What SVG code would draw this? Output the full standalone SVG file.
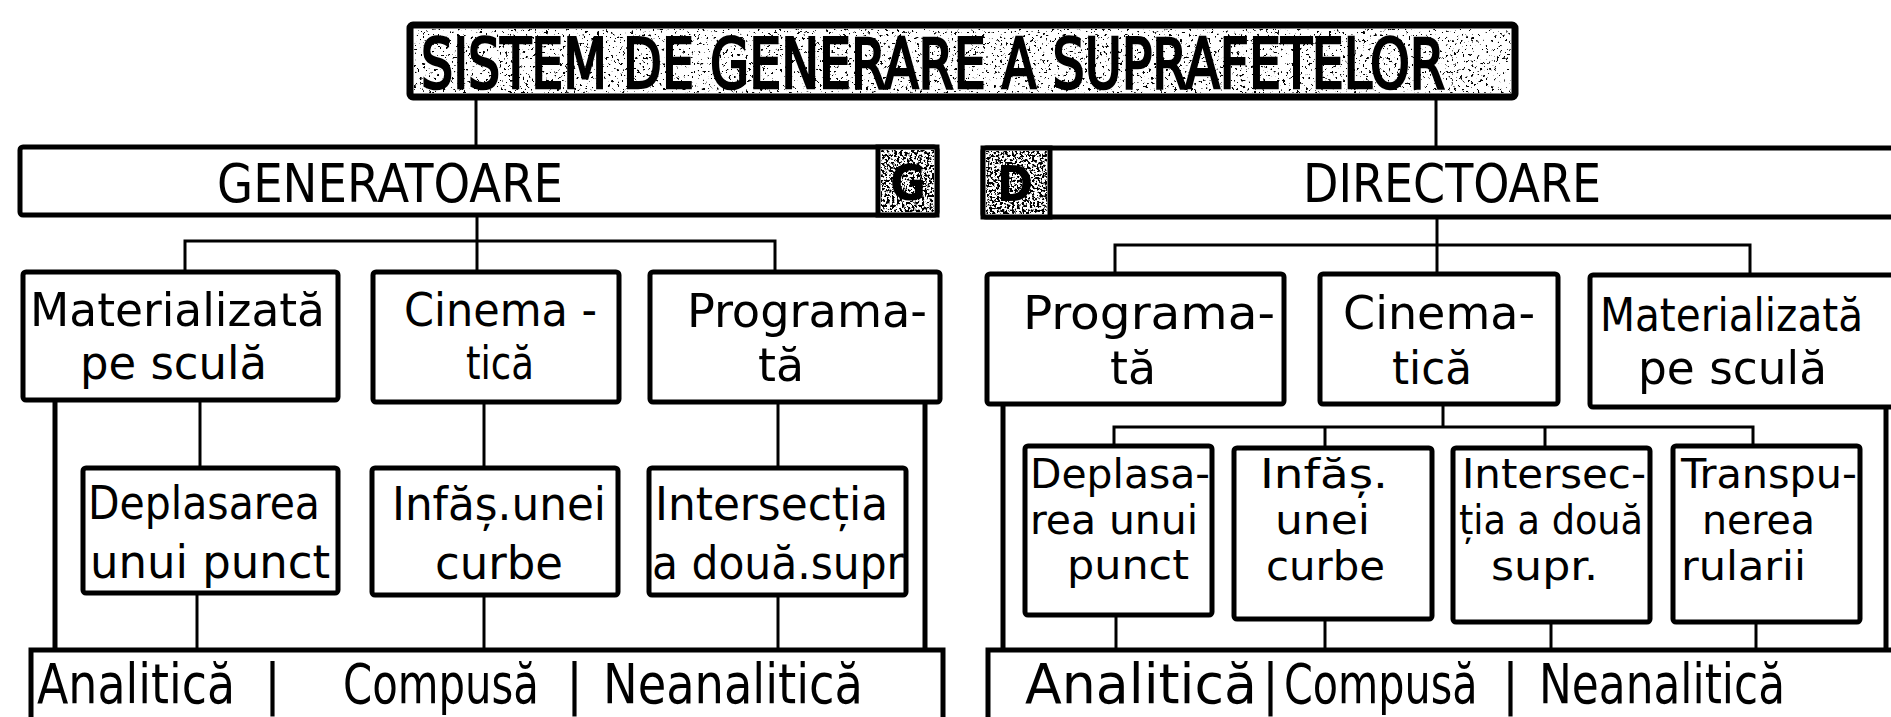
<svg xmlns="http://www.w3.org/2000/svg" width="1891" height="717" viewBox="0 0 1891 717">
<defs>
<filter id="speckle" x="0" y="0" width="100%" height="100%">
<feTurbulence type="fractalNoise" baseFrequency="0.35" numOctaves="3" seed="7"/>
<feColorMatrix type="matrix" values="0 0 0 0 0  0 0 0 0 0  0 0 0 0 0  16 0 0 0 -10.2"/>
</filter>
<filter id="dense" x="0" y="0" width="100%" height="100%">
<feTurbulence type="fractalNoise" baseFrequency="0.4" numOctaves="3" seed="3"/>
<feColorMatrix type="matrix" values="0 0 0 0 0  0 0 0 0 0  0 0 0 0 0  12 0 0 0 -5.8"/>
</filter>
</defs>
<style>
.box{fill:#fff;stroke:#000;stroke-width:5}
.tbox{fill:#fff;stroke:#000;stroke-width:7}
.ln{stroke:#000;stroke-width:3;fill:none}
.bus{stroke:#000;stroke-width:5;fill:none}
text{font-family:"DejaVu Sans Condensed","DejaVu Sans","Liberation Sans",sans-serif;fill:#000}
.t2{font-size:46px}
.t3{font-size:46px}
.t3r{font-size:40px}
.hd{font-size:53px}
.bt{font-size:56px}
.ttl{font-size:70px;stroke:#000;stroke-width:2.5}
.ini{font-size:50px;font-weight:bold}
</style>
<rect width="1891" height="717" fill="#fff"/>
<g id="connectors">
<line class="ln" x1="476" y1="97" x2="476" y2="147"/>
<line class="ln" x1="1436" y1="97" x2="1436" y2="147"/>
<line class="ln" x1="477" y1="215" x2="477" y2="272"/>
<polyline class="ln" points="185,272 185,241 775,241 775,272"/>
<line class="ln" x1="1437" y1="217" x2="1437" y2="274"/>
<polyline class="ln" points="1115,274 1115,245 1750,245 1750,275"/>
<line class="ln" x1="200" y1="400" x2="200" y2="468"/>
<line class="ln" x1="484" y1="402" x2="484" y2="468"/>
<line class="ln" x1="778" y1="402" x2="778" y2="468"/>
<line class="ln" x1="197" y1="593" x2="197" y2="650"/>
<line class="ln" x1="484" y1="595" x2="484" y2="650"/>
<line class="ln" x1="778" y1="595" x2="778" y2="650"/>
<line class="bus" x1="55" y1="400" x2="55" y2="650"/>
<line class="bus" x1="925" y1="402" x2="925" y2="650"/>
<line class="ln" x1="1443" y1="404" x2="1443" y2="427"/>
<polyline class="ln" points="1114,446 1114,427 1753,427 1753,446"/>
<line class="ln" x1="1325" y1="427" x2="1325" y2="448"/>
<line class="ln" x1="1545" y1="427" x2="1545" y2="448"/>
<line class="ln" x1="1116" y1="615" x2="1116" y2="650"/>
<line class="ln" x1="1325" y1="619" x2="1325" y2="650"/>
<line class="ln" x1="1551" y1="622" x2="1551" y2="650"/>
<line class="ln" x1="1756" y1="622" x2="1756" y2="650"/>
<line class="bus" x1="1003" y1="404" x2="1003" y2="650"/>
<line class="bus" x1="1886" y1="407" x2="1886" y2="650"/>
</g>
<g id="title">
<rect class="tbox" x="410" y="25" width="1105" height="72" rx="3"/>
<rect x="414" y="29" width="1097" height="64" fill="#fff" filter="url(#speckle)"/>
<text class="ttl" x="421" y="88" textLength="1024" lengthAdjust="spacingAndGlyphs">SISTEM DE GENERARE A SUPRAFETELOR</text>
</g>
<g id="generatoare">
<rect class="box" x="20" y="147" width="917" height="68" rx="3"/>
<text class="hd" x="217" y="202" textLength="346" lengthAdjust="spacingAndGlyphs">GENERATOARE</text>
<rect class="box" x="878" y="147" width="59" height="68"/>
<rect x="881" y="150" width="53" height="62" fill="#fff" filter="url(#dense)"/>
<text class="ini" x="890" y="200" textLength="36" lengthAdjust="spacingAndGlyphs">G</text>
</g>
<g id="directoare">
<rect class="box" x="983" y="148" width="930" height="69" rx="3"/>
<text class="hd" x="1303" y="202" textLength="298" lengthAdjust="spacingAndGlyphs">DIRECTOARE</text>
<rect class="box" x="983" y="148" width="67" height="69"/>
<rect x="986" y="151" width="61" height="63" fill="#fff" filter="url(#dense)"/>
<text class="ini" x="997" y="201" textLength="36" lengthAdjust="spacingAndGlyphs">D</text>
</g>
<g id="g-materializata">
<rect class="box" x="23" y="272" width="315" height="128" rx="3"/>
<text class="t2" x="30" y="326" textLength="295" lengthAdjust="spacingAndGlyphs">Materializată</text>
<text class="t2" x="80" y="379" textLength="187" lengthAdjust="spacingAndGlyphs">pe sculă</text>
</g>
<g id="g-cinematica">
<rect class="box" x="373" y="272" width="246" height="130" rx="3"/>
<text class="t2" x="404" y="326" textLength="193" lengthAdjust="spacingAndGlyphs">Cinema -</text>
<text class="t2" x="466" y="379" textLength="68" lengthAdjust="spacingAndGlyphs">tică</text>
</g>
<g id="g-programata">
<rect class="box" x="650" y="272" width="290" height="130" rx="3"/>
<text class="t2" x="687" y="327" textLength="240" lengthAdjust="spacingAndGlyphs">Programa-</text>
<text class="t2" x="758" y="381" textLength="46" lengthAdjust="spacingAndGlyphs">tă</text>
</g>
<g id="d-programata">
<rect class="box" x="987" y="274" width="297" height="130" rx="3"/>
<text class="t2" x="1023" y="329" textLength="252" lengthAdjust="spacingAndGlyphs">Programa-</text>
<text class="t2" x="1110" y="384" textLength="46" lengthAdjust="spacingAndGlyphs">tă</text>
</g>
<g id="d-cinematica">
<rect class="box" x="1320" y="274" width="238" height="130" rx="3"/>
<text class="t2" x="1343" y="329" textLength="192" lengthAdjust="spacingAndGlyphs">Cinema-</text>
<text class="t2" x="1392" y="384" textLength="80" lengthAdjust="spacingAndGlyphs">tică</text>
</g>
<g id="d-materializata">
<rect class="box" x="1590" y="275" width="320" height="132" rx="3"/>
<text class="t2" x="1600" y="331" textLength="263" lengthAdjust="spacingAndGlyphs">Materializată</text>
<text class="t2" x="1638" y="384" textLength="189" lengthAdjust="spacingAndGlyphs">pe sculă</text>
</g>
<g id="g-deplasarea">
<rect class="box" x="83" y="468" width="255" height="125" rx="3"/>
<text class="t3" x="88" y="519" textLength="232" lengthAdjust="spacingAndGlyphs">Deplasarea</text>
<text class="t3" x="90" y="578" textLength="240" lengthAdjust="spacingAndGlyphs">unui punct</text>
</g>
<g id="g-infasurarea">
<rect class="box" x="372" y="468" width="246" height="127" rx="3"/>
<text class="t3" x="392" y="520" textLength="214" lengthAdjust="spacingAndGlyphs">Infăș.unei</text>
<text class="t3" x="435" y="579" textLength="128" lengthAdjust="spacingAndGlyphs">curbe</text>
</g>
<g id="g-intersectia">
<rect class="box" x="649" y="468" width="257" height="127" rx="3"/>
<text class="t3" x="655" y="520" textLength="233" lengthAdjust="spacingAndGlyphs">Intersecția</text>
<text class="t3" x="652" y="579" textLength="252" lengthAdjust="spacingAndGlyphs">a două.supr</text>
</g>
<g id="d-deplasarea">
<rect class="box" x="1025" y="446" width="187" height="169" rx="3"/>
<text class="t3r" x="1030" y="488" textLength="180" lengthAdjust="spacingAndGlyphs">Deplasa-</text>
<text class="t3r" x="1030" y="534" textLength="168" lengthAdjust="spacingAndGlyphs">rea unui</text>
<text class="t3r" x="1067" y="579" textLength="122" lengthAdjust="spacingAndGlyphs">punct</text>
</g>
<g id="d-infasurarea">
<rect class="box" x="1234" y="448" width="198" height="171" rx="3"/>
<text class="t3r" x="1260" y="488" textLength="128" lengthAdjust="spacingAndGlyphs">Infăș.</text>
<text class="t3r" x="1275" y="534" textLength="95" lengthAdjust="spacingAndGlyphs">unei</text>
<text class="t3r" x="1266" y="580" textLength="119" lengthAdjust="spacingAndGlyphs">curbe</text>
</g>
<g id="d-intersectia">
<rect class="box" x="1453" y="448" width="197" height="174" rx="3"/>
<text class="t3r" x="1462" y="488" textLength="184" lengthAdjust="spacingAndGlyphs">Intersec-</text>
<text class="t3r" x="1459" y="534" textLength="184" lengthAdjust="spacingAndGlyphs">ția a două</text>
<text class="t3r" x="1491" y="580" textLength="107" lengthAdjust="spacingAndGlyphs">supr.</text>
</g>
<g id="d-transpunerea">
<rect class="box" x="1673" y="446" width="187" height="176" rx="3"/>
<text class="t3r" x="1681" y="488" textLength="176" lengthAdjust="spacingAndGlyphs">Transpu-</text>
<text class="t3r" x="1702" y="534" textLength="113" lengthAdjust="spacingAndGlyphs">nerea</text>
<text class="t3r" x="1681" y="580" textLength="125" lengthAdjust="spacingAndGlyphs">rularii</text>
</g>
<g id="g-tipuri">
<rect class="box" x="31" y="650" width="912" height="80"/>
<text class="bt" x="37" y="703" textLength="198" lengthAdjust="spacingAndGlyphs">Analitică</text>
<text class="bt" x="264" y="703">|</text>
<text class="bt" transform="translate(343,703) scale(0.83,1)">Compusă</text>
<text class="bt" x="566" y="703">|</text>
<text class="bt" x="603" y="703" textLength="260" lengthAdjust="spacingAndGlyphs">Neanalitică</text>
</g>
<g id="d-tipuri">
<rect class="box" x="988" y="650" width="930" height="80"/>
<text class="bt" x="1025" y="703" textLength="232" lengthAdjust="spacingAndGlyphs">Analitică</text>
<text class="bt" x="1262" y="703">|</text>
<text class="bt" transform="translate(1284,703) scale(0.82,1)">Compusă</text>
<text class="bt" x="1502" y="703">|</text>
<text class="bt" x="1539" y="703" textLength="246" lengthAdjust="spacingAndGlyphs">Neanalitică</text>
</g>
</svg>
